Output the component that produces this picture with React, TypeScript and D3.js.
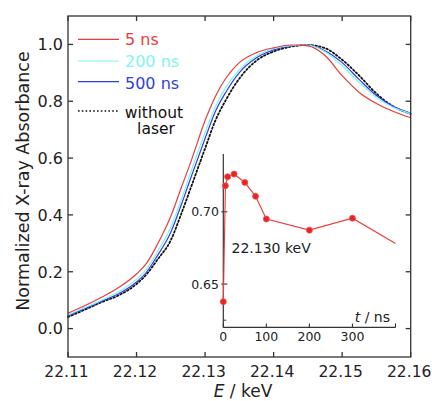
import React from "react";
import * as d3 from "d3";

// photon energy grid (keV)
const energies = [22.110, 22.1125, 22.115, 22.1175, 22.120, 22.1215, 22.123, 22.125, 22.1265, 22.128,
  22.130, 22.1315, 22.133, 22.135, 22.1375, 22.140, 22.1425, 22.145, 22.1475, 22.150, 22.1525, 22.155,
  22.1575, 22.160];

const ns5 = [0.054, 0.081, 0.111, 0.146, 0.192, 0.231, 0.294, 0.395, 0.494, 0.592, 0.732, 0.817, 0.880,
  0.936, 0.971, 0.988, 0.998, 0.995, 0.961, 0.890, 0.831, 0.792, 0.764, 0.742];
const ns200 = [0.048, 0.074, 0.101, 0.131, 0.174, 0.211, 0.269, 0.357, 0.452, 0.557, 0.690, 0.781, 0.848,
  0.911, 0.960, 0.985, 0.996, 0.998, 0.974, 0.925, 0.866, 0.813, 0.778, 0.757];
const ns500 = [0.045, 0.071, 0.097, 0.124, 0.164, 0.200, 0.255, 0.339, 0.434, 0.536, 0.669, 0.764, 0.831,
  0.901, 0.953, 0.981, 0.995, 0.998, 0.978, 0.936, 0.876, 0.820, 0.781, 0.758];
const noLaser = [0.041, 0.067, 0.094, 0.118, 0.157, 0.192, 0.241, 0.311, 0.402, 0.501, 0.634, 0.732, 0.803,
  0.880, 0.943, 0.975, 0.992, 0.998, 0.987, 0.946, 0.890, 0.827, 0.781, 0.756];

const xTicks = [22.11, 22.12, 22.13, 22.14, 22.15, 22.16];
const yTicks = [0.0, 0.2, 0.4, 0.6, 0.8, 1.0];

// inset: absorbance at 22.130 keV vs delay
const delays = [0, 5, 10, 25, 50, 75, 100, 200, 300];
const delayValues = [0.6378, 0.718, 0.7242, 0.7261, 0.7203, 0.7107, 0.695, 0.6873, 0.6956];
const lastDelay = 400;
const lastValue = 0.678;
const insetXTicks = [0, 100, 200, 300];
const insetYTicks = [0.65, 0.70];

const series = [
  { name: "5 ns", values: ns5, color: "#ee3a3a", dash: null },
  { name: "200 ns", values: ns200, color: "#7ff5f5", dash: null },
  { name: "500 ns", values: ns500, color: "#2f3fe0", dash: null },
  { name: "without laser", values: noLaser, color: "#111", dash: "1.6 2.2" },
];

const font = "'DejaVu Sans', Verdana, sans-serif";

export default function App() {
  const W = 432, H = 401;
  const left = 68, right = 410.7, top = 16, bottom = 357;

  const x = d3.scaleLinear().domain([22.11, 22.16]).range([left, right]);
  const y = d3.scaleLinear().domain([-0.1, 1.1]).range([bottom, top]);

  const line = d3.line<number>()
    .x((d, i) => x(energies[i]))
    .y(d => y(d))
    .curve(d3.curveMonotoneX);

  // inset scales
  const ix = d3.scaleLinear().domain([0, 400]).range([223.3, 395.5]);
  const iy = d3.scaleLinear().domain([0.62, 0.74]).range([327.4, 154]);
  const insetPts: [number, number][] = delays.map((t, i) => [t, delayValues[i]]);
  const insetLine = d3.line<[number, number]>()
    .x(d => ix(d[0]))
    .y(d => iy(d[1]));

  const axisColor = "#333";
  const legendY = [39.3, 61, 81.7, 111];

  return (
    <svg width={W} height={H} style={{ position: "absolute", left: 0, top: 0 }} fontFamily={font}>
      <rect width={W} height={H} fill="#fff" />

      {/* curves */}
      {series.slice().reverse().map(s => (
        <path key={s.name} d={line(s.values) || ""} fill="none" stroke={s.color}
          strokeWidth={s.dash ? 1.8 : 1.2} strokeDasharray={s.dash || undefined}
          strokeLinecap={s.dash ? "round" : "butt"} />
      ))}

      {/* frame */}
      <rect x={left} y={top} width={right - left} height={bottom - top} fill="none" stroke={axisColor} strokeWidth={1.3} />

      {/* x ticks */}
      {xTicks.map(t => (
        <g key={t}>
          <line x1={x(t)} x2={x(t)} y1={bottom} y2={bottom - 5} stroke={axisColor} strokeWidth={1.3} />
          <line x1={x(t)} x2={x(t)} y1={top} y2={top + 5} stroke={axisColor} strokeWidth={1.3} />
          <text x={x(t) - 1.5} y={376.5} textAnchor="middle" fontSize={15.5} fill="#222">{t.toFixed(2)}</text>
        </g>
      ))}

      {/* y ticks */}
      {yTicks.map(t => (
        <g key={t}>
          <line x1={left} x2={left + 5} y1={y(t)} y2={y(t)} stroke={axisColor} strokeWidth={1.3} />
          <line x1={right} x2={right - 5} y1={y(t)} y2={y(t)} stroke={axisColor} strokeWidth={1.3} />
          <text x={63} y={y(t)} dy="0.36em" textAnchor="end" fontSize={16} fill="#222">{t.toFixed(1)}</text>
        </g>
      ))}

      {/* axis titles */}
      <text transform={`translate(28.5,181) rotate(-90)`} textAnchor="middle" fontSize={17.5} fill="#222">
        Normalized X-ray Absorbance
      </text>
      <text x={243} y={397} textAnchor="middle" fontSize={17} fill="#222">
        <tspan fontStyle="italic">E</tspan> / keV
      </text>

      {/* legend */}
      {series.map((s, i) => (
        <line key={s.name} x1={78} x2={119} y1={legendY[i]} y2={legendY[i]} stroke={s.color}
          strokeWidth={s.dash ? 1.6 : 1.2} strokeDasharray={s.dash || undefined} />
      ))}
      <text x={125} y={45} fontSize={16} fill="#ee3a3a">5 ns</text>
      <text x={125} y={66.7} fontSize={16} fill="#7ff5f5">200 ns</text>
      <text x={125} y={89} fontSize={16} fill="#2f3fe0">500 ns</text>
      <text x={154} y={117.5} textAnchor="middle" fontSize={15.5} fill="#111">without</text>
      <text x={156} y={134} textAnchor="middle" fontSize={15.5} fill="#111">laser</text>

      {/* inset */}
      <rect x={222} y={152} width={178} height={178} fill="#fff" />
      <line x1={ix(0)} x2={ix(0)} y1={iy(0.74)} y2={iy(0.62)} stroke={axisColor} strokeWidth={1.2} />
      <line x1={ix(0)} x2={ix(400)} y1={iy(0.62)} y2={iy(0.62)} stroke={axisColor} strokeWidth={1.2} />
      {insetYTicks.map(t => (
        <g key={t}>
          <line x1={ix(0) - 2} x2={ix(0) + 4} y1={iy(t)} y2={iy(t)} stroke={axisColor} strokeWidth={1.1} />
          <text x={219} y={iy(t)} dy="0.36em" textAnchor="end" fontSize={12.5} fill="#222">{t.toFixed(2)}</text>
        </g>
      ))}
      <line x1={ix(0)} x2={ix(0) + 3} y1={iy(0.625)} y2={iy(0.625)} stroke={axisColor} strokeWidth={1} />
      {insetXTicks.concat([lastDelay]).map(t => (
        <line key={t} x1={ix(t)} x2={ix(t)} y1={iy(0.62)} y2={iy(0.62) - 4} stroke={axisColor} strokeWidth={1.1} />
      ))}
      {insetXTicks.map(t => (
        <text key={t} x={ix(t)} y={341} textAnchor="middle" fontSize={12.5} fill="#222">{t}</text>
      ))}
      <path d={insetLine(insetPts.concat([[lastDelay, lastValue]])) || ""} fill="none" stroke="#ef3a3a" strokeWidth={1.1} />
      {insetPts.map((p, i) => (
        <circle key={i} cx={ix(p[0])} cy={iy(p[1])} r={3} fill="#ee2222" stroke="#f05050" strokeWidth={0.8} />
      ))}
      <text x={231.5} y={252.5} fontSize={14} fill="#222">22.130 keV</text>
      <text x={390} y={321.5} textAnchor="end" fontSize={14} fill="#222">
        <tspan fontStyle="italic">t</tspan> / ns
      </text>
    </svg>
  );
}
